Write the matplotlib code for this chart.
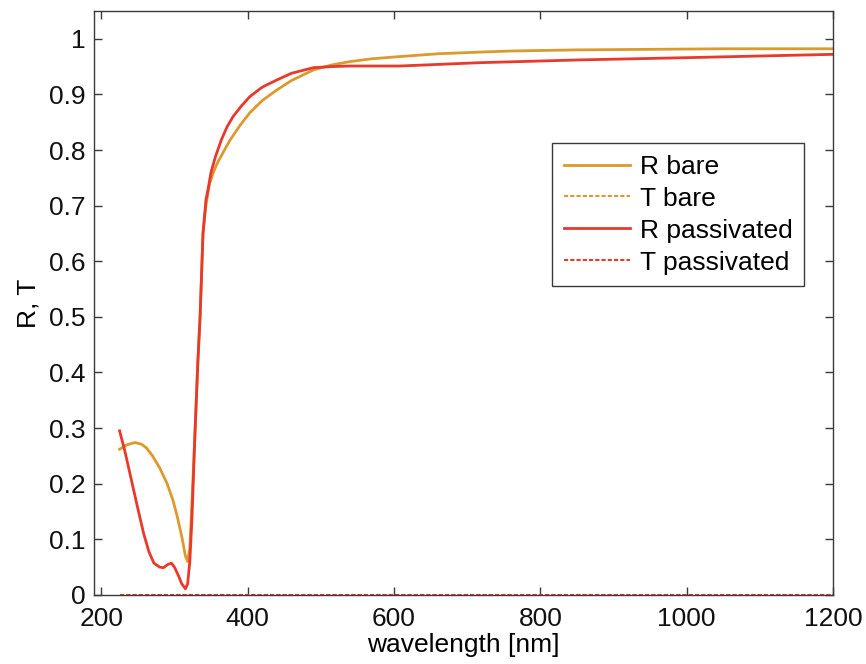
import numpy as np
import matplotlib
matplotlib.use("Agg")
import matplotlib.pyplot as plt

plt.rcParams['font.family'] = ['Liberation Sans', 'DejaVu Sans']

# reflectance of the bare sample
lam_bare = [225, 235, 246, 255, 262, 270, 280, 290, 298, 304, 310, 315, 318, 321, 324,
            328, 332, 335, 339, 343, 348, 353, 358, 365, 376, 390, 403, 420, 440, 460,
            490, 515, 540, 570, 608, 660, 717, 760, 850, 950, 1050, 1200]
R_bare = [0.262, 0.270, 0.274, 0.271, 0.264, 0.250, 0.228, 0.200, 0.170, 0.140, 0.105,
          0.070, 0.060, 0.085, 0.17, 0.29, 0.42, 0.50, 0.65, 0.70, 0.74, 0.759, 0.775,
          0.792, 0.818, 0.845, 0.867, 0.889, 0.908, 0.925, 0.944, 0.953, 0.959, 0.964,
          0.968, 0.973, 0.976, 0.978, 0.980, 0.981, 0.982, 0.982]

# reflectance of the passivated sample
lam_pas = [225, 232, 238, 244, 250, 258, 265, 272, 280, 285, 291, 296, 300, 305, 310,
           315, 318, 321, 324, 328, 332, 335, 339, 343, 346, 350, 356, 364, 372, 380,
           392, 403, 420, 440, 460, 490, 515, 540, 608, 717, 854, 1000, 1200]
R_pas = [0.295, 0.26, 0.225, 0.19, 0.155, 0.11, 0.078, 0.057, 0.050, 0.049, 0.055,
         0.057, 0.050, 0.036, 0.020, 0.011, 0.020, 0.06, 0.14, 0.29, 0.42, 0.50, 0.65,
         0.71, 0.73, 0.76, 0.788, 0.818, 0.842, 0.860, 0.880, 0.896, 0.913, 0.926,
         0.938, 0.948, 0.950, 0.951, 0.951, 0.957, 0.962, 0.966, 0.972]

# transmission (zero everywhere)
lam_T = [225, 1200]
T_bare = [0, 0]
T_pas = [0, 0]

c_bare = '#dc9a2c'
c_pas = '#e8392b'

fig = plt.figure(figsize=(8.66, 6.64), dpi=100)
ax = fig.add_axes([0.1085, 0.104, 0.8535, 0.8795])

ax.plot(lam_bare, R_bare, color=c_bare, lw=2, label='R bare')
ax.plot(lam_T, T_bare, color=c_bare, lw=1.5, ls=(0, (2, 1)), label='T bare')
ax.plot(lam_pas, R_pas, color=c_pas, lw=2, label='R passivated')
ax.plot(lam_T, T_pas, color=c_pas, lw=1.5, ls=(0, (2, 1)), label='T passivated')

ax.set_xlim(190, 1200)
ax.set_ylim(0, 1.05)
ax.set_xticks([200, 400, 600, 800, 1000, 1200])
ax.set_yticks(np.arange(0, 11) / 10)
ax.set_yticklabels(['0', '0.1', '0.2', '0.3', '0.4', '0.5', '0.6', '0.7', '0.8', '0.9', '1'])
ax.tick_params(direction='in', top=True, right=True, length=6, width=1,
               labelsize=19, labelcolor='#111111', color='#3a3a3a', pad=6)
ax.tick_params(axis='x', pad=9)
for s in ax.spines.values():
    s.set_color('#3a3a3a')
    s.set_linewidth(1)

ax.set_xlabel('wavelength [nm]', fontsize=19, labelpad=1)
ax.set_ylabel('R, T', fontsize=19, labelpad=6)

leg = ax.legend(loc='upper right', bbox_to_anchor=(0.961, 0.774), borderaxespad=0,
                fontsize=19, handlelength=2.5, handletextpad=0.37, labelspacing=0.3,
                borderpad=0.45, fancybox=False, framealpha=1)
leg.get_frame().set_edgecolor('#3a3a3a')
leg.get_frame().set_linewidth(1)

fig.savefig('out.png', dpi=100)
